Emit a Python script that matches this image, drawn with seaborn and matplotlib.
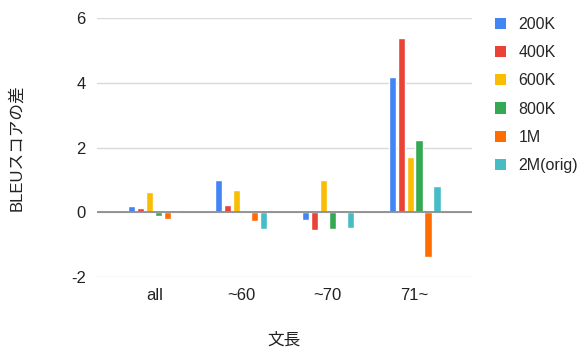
import matplotlib
matplotlib.use("Agg")
import matplotlib.pyplot as plt
from matplotlib.patches import Patch
import seaborn as sns
import pandas as pd

# sentence-length buckets and the corpus sizes compared
categories = ["all", "~60", "~70", "71~"]
series = ["200K", "400K", "600K", "800K", "1M", "2M(orig)"]

# BLEU difference per bucket, one list per corpus size
bleu_200k = [0.20, 1.00, -0.25, 4.17]
bleu_400k = [0.13, 0.24, -0.54, 5.40]
bleu_600k = [0.63, 0.70, 1.00, 1.70]
bleu_800k = [-0.10, 0.03, -0.51, 2.25]
bleu_1m = [-0.20, -0.26, 0.08, -1.38]
bleu_2m = [0.00, -0.51, -0.48, 0.80]

colors = ["#4285F4", "#EA4335", "#FBBC04", "#34A853", "#FF6D01", "#46BDC6"]
y_ticks = [-2, 0, 2, 4, 6]

values = [bleu_200k, bleu_400k, bleu_600k, bleu_800k, bleu_1m, bleu_2m]
rows = []
for name, vals in zip(series, values):
    for cat, v in zip(categories, vals):
        rows.append({"文長": cat, "size": name, "diff": v})
df = pd.DataFrame(rows)

sns.set_theme(style="white")
plt.rcParams["font.family"] = ["Liberation Sans", "Noto Sans CJK JP", "DejaVu Sans"]

fig = plt.figure(figsize=(5.84, 3.49), dpi=100)
ax = fig.add_axes([0.166, 0.206, 0.642, 0.742])

sns.barplot(data=df, x="文長", y="diff", hue="size", hue_order=series,
            order=categories, palette=colors, width=0.62, gap=0.2,
            saturation=1, legend=False, ax=ax)

ax.set_ylim(-2, 6)
ax.set_xlim(-0.66, 3.66)
ax.set_yticks(y_ticks)
ax.set_yticklabels([str(t) for t in y_ticks])
for s in ax.spines.values():
    s.set_visible(False)
ax.yaxis.grid(True, color="#d9d9d9", linewidth=1)
ax.set_axisbelow(True)
ax.axhline(0, color="#8c8c8c", linewidth=1.3, zorder=3)
ax.tick_params(axis="both", length=0, labelsize=12, colors="#222222")
ax.tick_params(axis="y", pad=8)
ax.tick_params(axis="x", pad=8)

ax.set_xlabel("文長", fontsize=12, color="#222222", labelpad=21)
ax.set_ylabel("BLEUスコアの差", fontsize=12, color="#222222", labelpad=34)

handles = [Patch(facecolor=c, edgecolor="none", label=s) for s, c in zip(series, colors)]
ax.legend(handles=handles, loc="upper left", bbox_to_anchor=(1.045, 1.03),
          frameon=False, fontsize=11.5, handlelength=0.7, handleheight=0.7,
          handletextpad=0.75, labelspacing=0.83, borderaxespad=0)

fig.savefig("out.png", dpi=100)
